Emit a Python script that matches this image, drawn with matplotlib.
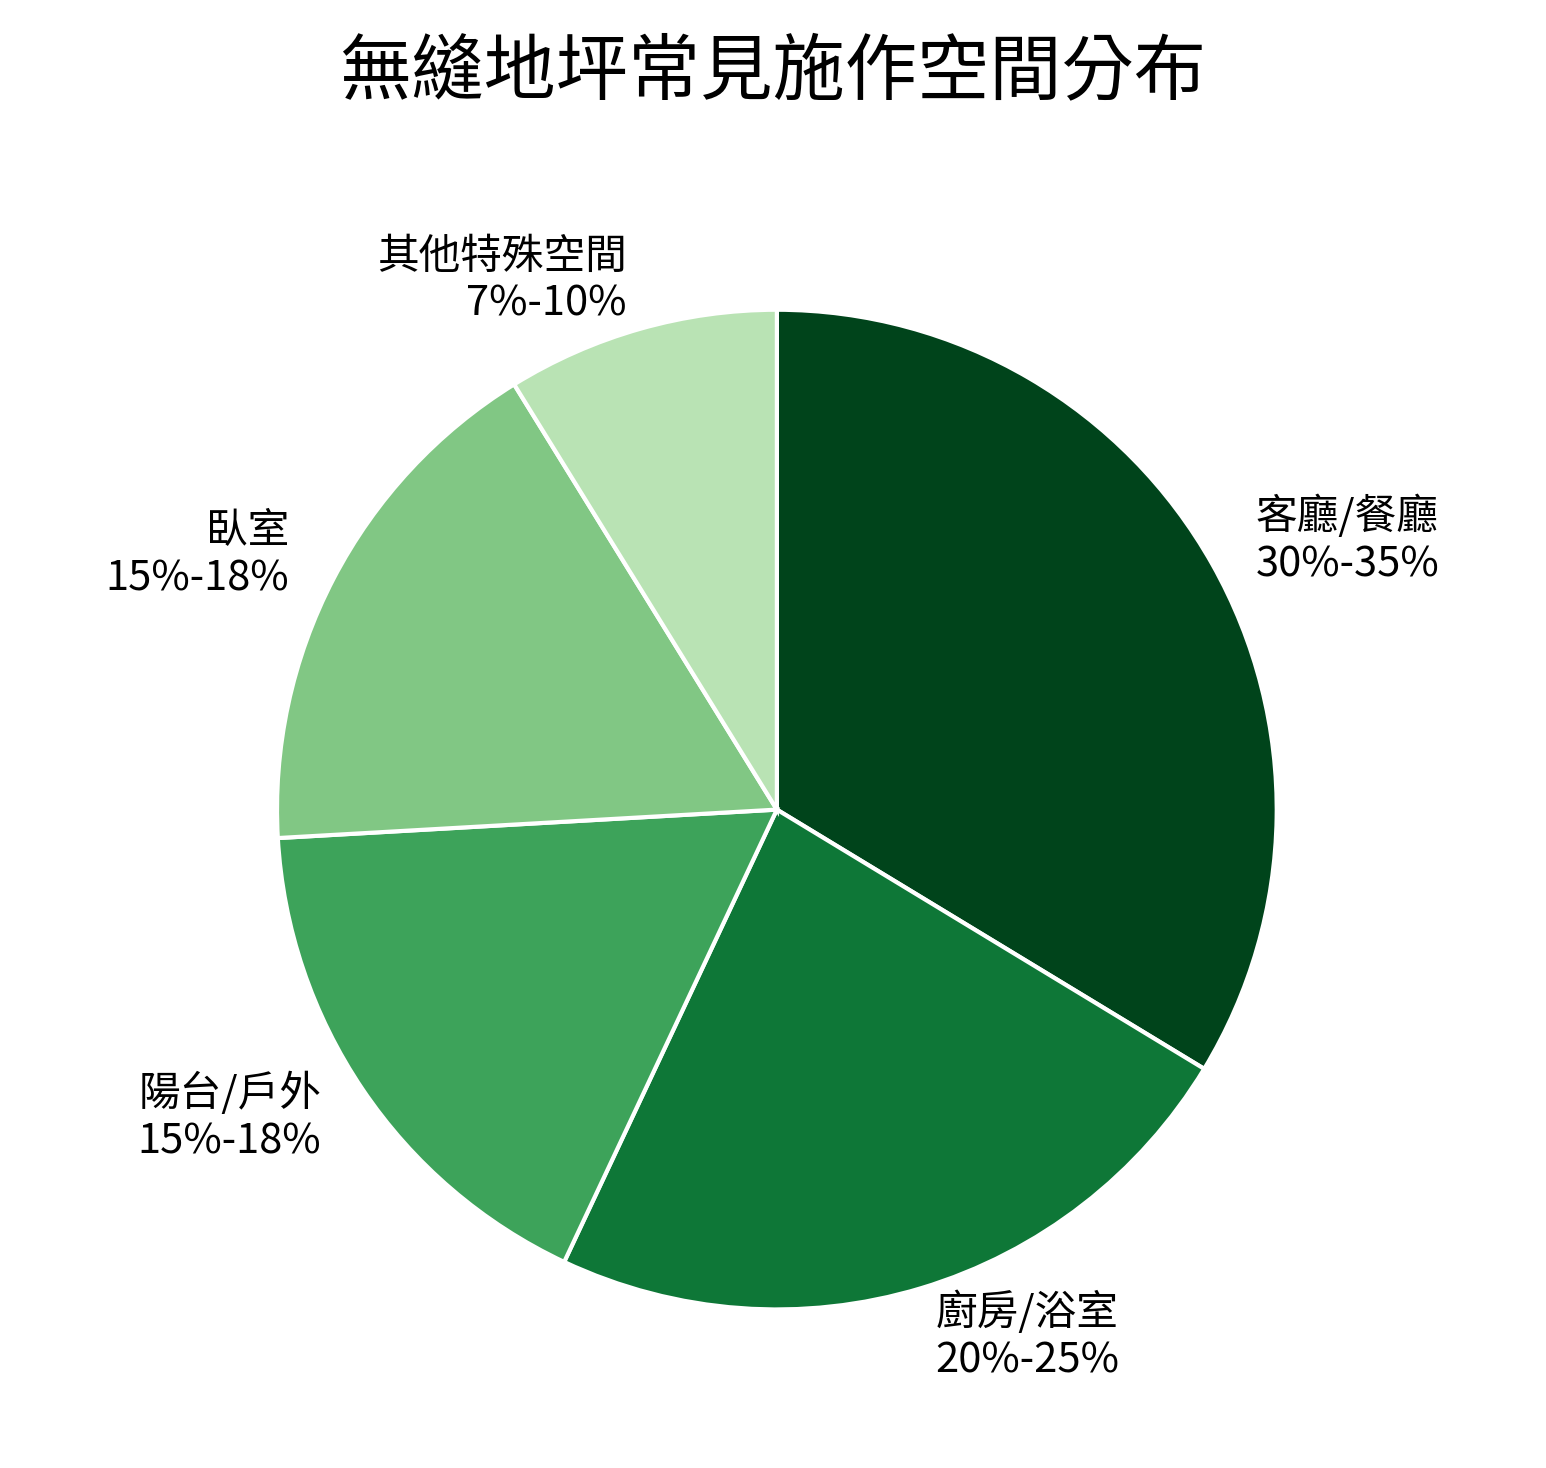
import matplotlib
matplotlib.use("Agg")
import matplotlib.pyplot as plt

plt.rcParams['font.family'] = ['Noto Sans CJK TC', 'DejaVu Sans']

# ── Data ──────────────────────────────────────────────────────────────────────
spaces = ["客廳/餐廳", "廚房/浴室", "陽台/戶外", "臥室", "其他特殊空間"]
ranges = ["30%-35%", "20%-25%", "15%-18%", "15%-18%", "7%-10%"]
values = [32.5, 22.5, 16.5, 16.5, 8.5]   # range midpoints
colors = ["#00441b", "#0e7737", "#3da35a", "#81c784", "#b9e3b4"]

fig = plt.figure(figsize=(7.73, 7.34), dpi=200)
ax = fig.add_axes([0.179, 0.108, 0.647, 0.681])

labels = [f"{s}\n{r}" for s, r in zip(spaces, ranges)]
ax.pie(values, labels=labels, colors=colors, startangle=90, counterclock=False,
       labeldistance=1.1, radius=1.0,
       wedgeprops=dict(edgecolor="white", linewidth=1.5),
       textprops=dict(fontsize=15))
ax.set_xlim(-1, 1)
ax.set_ylim(-1, 1)
ax.set_aspect("equal")

fig.suptitle("無縫地坪常見施作空間分布", fontsize=26, y=0.975)
fig.savefig("out.png", dpi=200, facecolor="white")
